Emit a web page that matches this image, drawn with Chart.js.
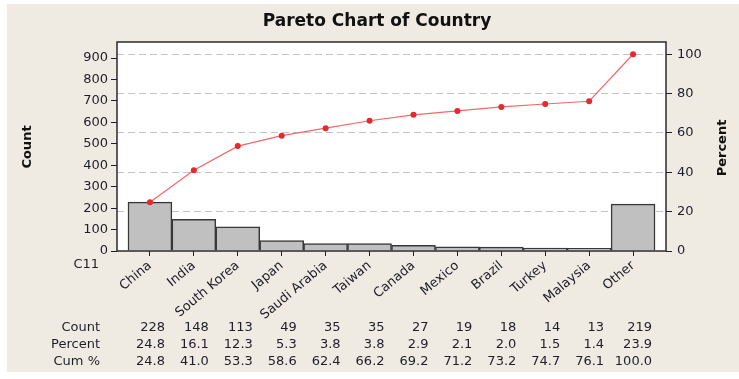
<!DOCTYPE html>
<html>
<head>
<meta charset="utf-8">
<title>Pareto Chart of Country</title>
<script src="https://cdn.jsdelivr.net/npm/chart.js@4.4.1/dist/chart.umd.min.js"></script>
<style>
  html, body { margin: 0; padding: 0; background: #fff; }
  canvas { display: block; }
</style>
</head>
<body>
<canvas id="pareto--canvas" width="739" height="379"></canvas>
<script>
const countries = ["China", "India", "South Korea", "Japan", "Saudi Arabia", "Taiwan",
  "Canada", "Mexico", "Brazil", "Turkey", "Malaysia", "Other"];
const counts = [228, 148, 113, 49, 35, 35, 27, 19, 18, 14, 13, 219];
const percents = [24.8, 16.1, 12.3, 5.3, 3.8, 3.8, 2.9, 2.1, 2.0, 1.5, 1.4, 23.9];
const cumPercents = [24.8, 41.0, 53.3, 58.6, 62.4, 66.2, 69.2, 71.2, 73.2, 74.7, 76.1, 100.0];
const countTicks = [0, 100, 200, 300, 400, 500, 600, 700, 800, 900];
const percentTicks = [0, 20, 40, 60, 80, 100];

const FONT = "'DejaVu Sans', Verdana, sans-serif";
const INK = "#1e1e2a";
const countMax = 975;
const total = counts.reduce((a, b) => a + b, 0);

const tickFont = { family: FONT, size: 13 };

// background panel, white plot area, frame, titles and the stats table
const paretoDecor = {
  id: "paretoDecor",
  beforeDraw(chart) {
    const { ctx, chartArea: a } = chart;
    ctx.save();
    ctx.fillStyle = "#ffffff";
    ctx.fillRect(0, 0, chart.width, chart.height);
    ctx.fillStyle = "#efebe2";
    ctx.fillRect(7, 4, chart.width - 7, 368);
    ctx.fillStyle = "#ffffff";
    ctx.fillRect(a.left, a.top, a.right - a.left, a.bottom - a.top);
    ctx.restore();
  },
  afterDraw(chart) {
    const { ctx, chartArea: a } = chart;
    const xScale = chart.scales.x;
    ctx.save();

    ctx.strokeStyle = "#2b2b2b";
    ctx.lineWidth = 1.5;
    ctx.strokeRect(a.left, a.top, a.right - a.left, a.bottom - a.top);

    ctx.fillStyle = "#111";
    ctx.textAlign = "center";
    ctx.textBaseline = "middle";
    ctx.font = "bold 17px " + FONT;
    ctx.fillText("Pareto Chart of Country", 377, 22);

    ctx.font = "bold 13px " + FONT;
    ctx.save();
    ctx.translate(28, 147);
    ctx.rotate(-Math.PI / 2);
    ctx.fillText("Count", 0, 0);
    ctx.restore();
    ctx.save();
    ctx.translate(723, 148);
    ctx.rotate(-Math.PI / 2);
    ctx.fillText("Percent", 0, 0);
    ctx.restore();

    ctx.fillStyle = INK;
    ctx.font = "13px " + FONT;
    ctx.textAlign = "right";
    ctx.fillText("C11", 99, 265);

    const rows = [
      ["Count", counts.map(String)],
      ["Percent", percents.map((v) => v.toFixed(1))],
      ["Cum %", cumPercents.map((v) => v.toFixed(1))],
    ];
    const rowY = [328, 345, 362];
    rows.forEach(([label, cells], r) => {
      ctx.fillText(label, 100, rowY[r]);
      cells.forEach((t, i) => {
        const shift = i === cells.length - 1 ? 19 : 15;
        ctx.fillText(t, xScale.getPixelForValue(i) + shift, rowY[r]);
      });
    });
    ctx.restore();
  },
};

const ctx = document.querySelector("#pareto--canvas").getContext("2d");

new Chart(ctx, {
  type: "bar",
  data: {
    datasets: [
      {
        type: "line",
        label: "Cum %",
        data: cumPercents.map((y, i) => ({ x: i, y })),
        yAxisID: "y1",
        borderColor: "#f26868",
        borderWidth: 1.2,
        pointRadius: 3,
        pointBackgroundColor: "#e8282c",
        pointBorderColor: "#e8282c",
        pointBorderWidth: 0,
        tension: 0,
        order: 0,
      },
      {
        label: "Count",
        data: counts.map((y, i) => ({ x: i, y })),
        yAxisID: "y",
        backgroundColor: "#c0c0c0",
        borderColor: "#383838",
        borderWidth: 1.5,
        barPercentage: 1,
        categoryPercentage: 1,
        order: 1,
      },
    ],
  },
  options: {
    responsive: false,
    animation: false,
    devicePixelRatio: 1,
    events: [],
    layout: { padding: { top: 42, left: 0, right: 0, bottom: 0 } },
    scales: {
      x: {
        type: "linear",
        min: -0.75,
        max: 11.75,
        offset: false,
        afterBuildTicks: (s) => { s.ticks = countries.map((c, i) => ({ value: i })); },
        afterFit: (s) => { s.height = 128; },
        grid: { drawOnChartArea: false, offset: false, tickLength: 5, color: INK },
        border: { display: false },
        ticks: {
          autoSkip: false,
          minRotation: 40,
          maxRotation: 40,
          padding: 2,
          font: tickFont,
          color: INK,
          callback: (v) => countries[v],
        },
      },
      y: {
        position: "left",
        min: 0,
        max: countMax,
        afterBuildTicks: (s) => { s.ticks = countTicks.map((v) => ({ value: v })); },
        afterFit: (s) => { s.width = 117; },
        grid: { drawOnChartArea: false, tickLength: 6, color: INK },
        border: { display: false },
        ticks: { padding: 3, font: tickFont, color: INK },
      },
      y1: {
        position: "right",
        min: 0,
        max: countMax / total * 100,
        afterBuildTicks: (s) => { s.ticks = percentTicks.map((v) => ({ value: v })); },
        afterFit: (s) => { s.width = 73; },
        grid: {
          drawOnChartArea: true,
          tickLength: 6,
          color: (c) => (c.tick && c.tick.value === 0 ? "rgba(0,0,0,0)" : "#c4c4c4"),
          tickColor: INK,
          tickBorderDash: [],
        },
        border: { display: false, dash: [7, 4] },
        ticks: { padding: 5, font: tickFont, color: INK },
      },
    },
    plugins: {
      legend: { display: false },
      tooltip: { enabled: false },
      title: { display: false },
    },
  },
  plugins: [paretoDecor],
});
</script>
</body>
</html>
